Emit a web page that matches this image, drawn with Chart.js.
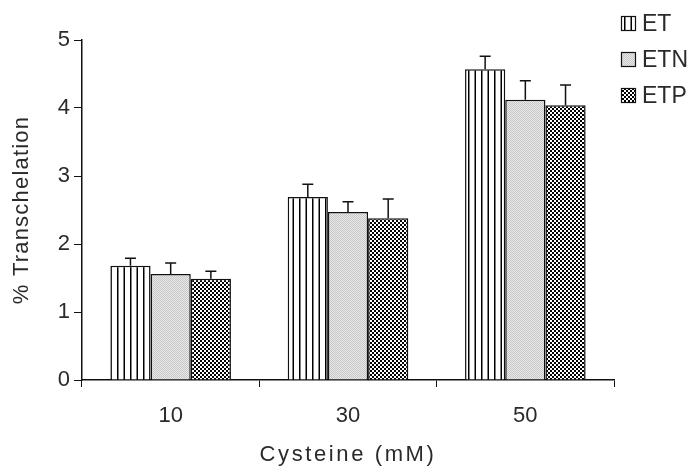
<!DOCTYPE html>
<html>
<head>
<meta charset="utf-8">
<script src="https://cdn.jsdelivr.net/npm/chart.js@4.4.1/dist/chart.umd.min.js"></script>
<style>
  html, body { margin: 0; padding: 0; background: #fff; }
  #wrap { width: 689px; height: 466px; }
</style>
</head>
<body>
<div id="wrap"><canvas id="chart" width="689" height="466"></canvas></div>
<script>
const categories = ["10", "30", "50"];
const seriesNames = ["ET", "ETN", "ETP"];
const etValues = [1.68, 2.69, 4.57];
const etnValues = [1.56, 2.47, 4.12];
const etpValues = [1.49, 2.38, 4.04];
const etErrors = [0.11, 0.19, 0.19];
const etnErrors = [0.16, 0.15, 0.28];
const etpErrors = [0.11, 0.28, 0.30];
const yMin = 0, yMax = 5, yStep = 1;
const xTitle = "Cysteine (mM)";
const yTitle = "% Transchelation";

const FONT = "'Liberation Sans', Arial, sans-serif";
const INK = "#111";
const TEXT = "#2a2a2a";

function tile(w, h, draw) {
    const c = document.createElement("canvas");
    c.width = w; c.height = h;
    const g = c.getContext("2d");
    draw(g);
    return g.createPattern(c, "repeat");
}

// vertical stripes, speckled grey, checkerboard
const stripes = tile(13, 4, g => {
    g.fillStyle = "#fff"; g.fillRect(0, 0, 13, 4);
    g.fillStyle = "#000"; g.fillRect(0, 0, 1.5, 4); g.fillRect(6.5, 0, 1.5, 4);
});
const speckle = tile(2, 2, g => {
    g.fillStyle = "#e8e8e8"; g.fillRect(0, 0, 2, 2);
    g.fillStyle = "#c8c8c8"; g.fillRect(0, 0, 1, 1); g.fillRect(1, 1, 1, 1);
});
const checker = tile(4, 4, g => {
    g.fillStyle = "#fff"; g.fillRect(0, 0, 4, 4);
    g.fillStyle = "#000"; g.fillRect(0, 0, 2, 2); g.fillRect(2, 2, 2, 2);
});

// the axis titles in the picture are spaced out a little
const titleSpacing = { [xTitle]: "2.6px", [yTitle]: "1.2px" };
const spacing = {
    id: "spacing",
    beforeDraw(chart) {
        const ctx = chart.ctx;
        if (ctx._spaced) return;
        const orig = ctx.fillText;
        ctx.fillText = function (t, x, y, m) {
            const prev = this.letterSpacing;
            if (titleSpacing[t]) this.letterSpacing = titleSpacing[t];
            if (m === undefined) orig.call(this, t, x, y); else orig.call(this, t, x, y, m);
            this.letterSpacing = prev;
        };
        ctx._spaced = true;
    }
};

const errorBars = {
    id: "errorBars",
    afterDatasetsDraw(chart) {
        const ctx = chart.ctx;
        const y = chart.scales.y;
        chart.data.datasets.forEach((ds, i) => {
            chart.getDatasetMeta(i).data.forEach((bar, j) => {
                const top = y.getPixelForValue(ds.data[j] + ds.errors[j]);
                ctx.save();
                ctx.strokeStyle = INK;
                ctx.lineWidth = 1.5;
                ctx.beginPath();
                ctx.moveTo(bar.x, bar.y);
                ctx.lineTo(bar.x, top);
                ctx.moveTo(bar.x - 5.5, top);
                ctx.lineTo(bar.x + 5.5, top);
                ctx.stroke();
                ctx.restore();
            });
        });
    }
};

const legendBox = {
    id: "legendBox",
    afterDraw(chart) {
        const ctx = chart.ctx;
        ctx.save();
        ctx.font = "23px " + FONT;
        ctx.textBaseline = "middle";
        chart.data.datasets.forEach((ds, i) => {
            const bx = 621, by = 16 + i * 36;
            ctx.fillStyle = ds.backgroundColor;
            ctx.fillRect(bx, by, 15, 15);
            ctx.strokeStyle = INK;
            ctx.lineWidth = 1.2;
            ctx.strokeRect(bx + 0.5, by + 0.5, 14, 14);
            ctx.fillStyle = TEXT;
            ctx.fillText(ds.label, bx + 21, by + 8.5);
        });
        ctx.restore();
    }
};

const allValues = [etValues, etnValues, etpValues];
const allErrors = [etErrors, etnErrors, etpErrors];
const fills = [stripes, speckle, checker];

new Chart(document.getElementById("chart"), {
    type: "bar",
    data: {
        labels: categories,
        datasets: seriesNames.map((name, i) => ({
            label: name,
            data: allValues[i],
            errors: allErrors[i],
            backgroundColor: fills[i],
            borderColor: INK,
            borderWidth: 1.5,
            categoryPercentage: 0.68,
            barPercentage: 1
        }))
    },
    options: {
        responsive: false,
        animation: false,
        layout: { padding: { top: 40, right: 75, bottom: 0, left: 0 } },
        plugins: {
            legend: { display: false },
            tooltip: { enabled: false }
        },
        scales: {
            x: {
                grid: { display: true, drawOnChartArea: false, offset: true, tickLength: 7, color: INK },
                border: { color: INK, width: 1.5 },
                ticks: { color: TEXT, padding: 16, font: { family: FONT, size: 22 } },
                title: {
                    display: true, text: xTitle, color: TEXT,
                    font: { family: FONT, size: 22, lineHeight: 1 }, padding: { top: 0, bottom: 0 }
                },
                afterFit(s) { s.height = 86; }
            },
            y: {
                min: yMin, max: yMax,
                grid: { display: true, drawOnChartArea: false, tickLength: 8, color: INK },
                border: { color: INK, width: 1.5 },
                ticks: { stepSize: yStep, color: TEXT, padding: 4, font: { family: FONT, size: 22 } },
                title: {
                    display: true, text: yTitle, color: TEXT,
                    font: { family: FONT, size: 22 }, padding: { top: 9, bottom: 0 }
                },
                afterFit(s) { s.width = 82; }
            }
        }
    },
    plugins: [spacing, errorBars, legendBox]
});
</script>
</body>
</html>
